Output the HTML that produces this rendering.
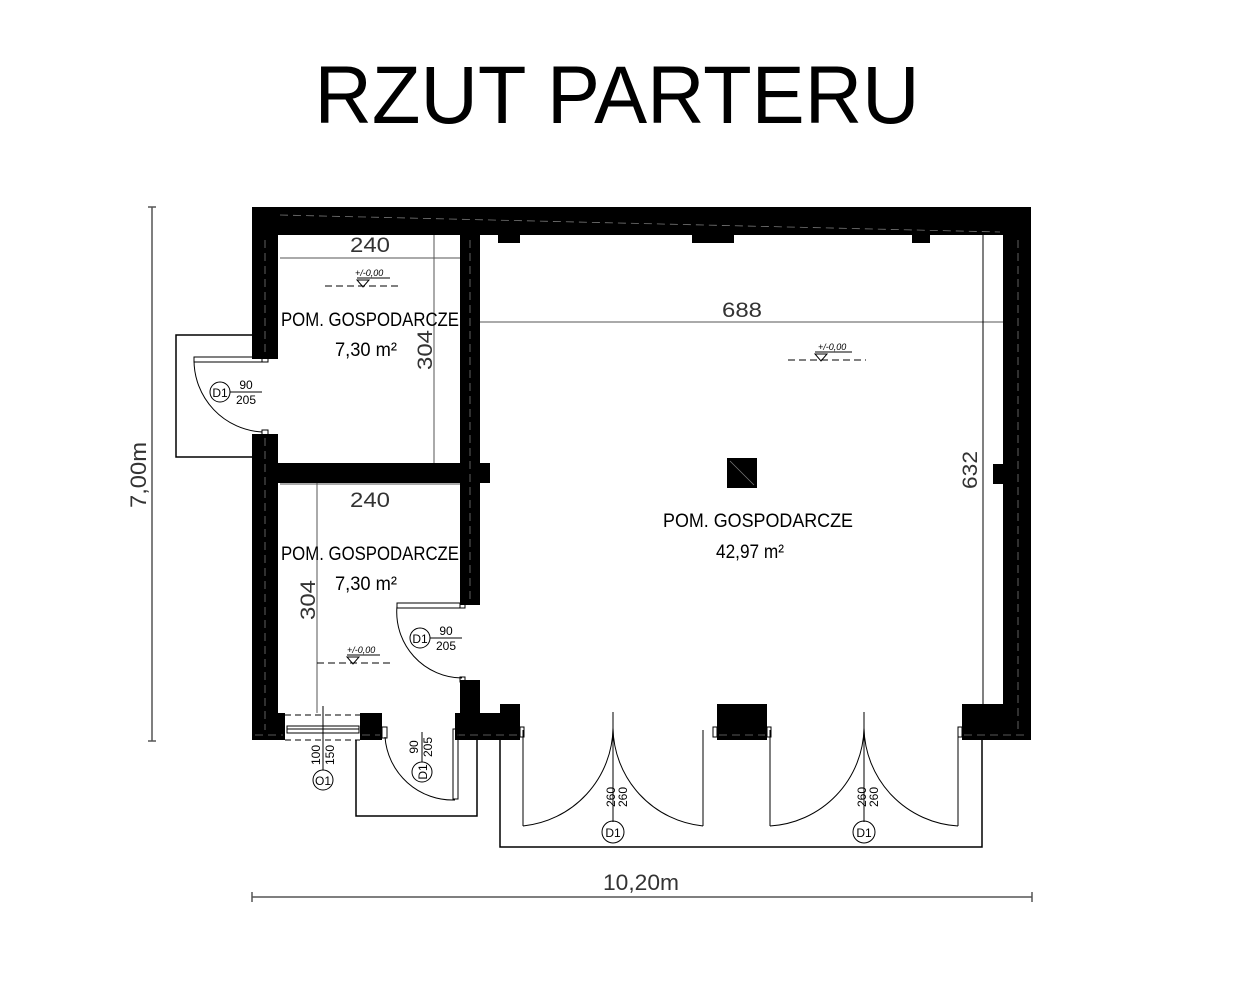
<!DOCTYPE html>
<html><head><meta charset="utf-8"><style>
html,body{margin:0;padding:0;background:#fff;}
svg{display:block;}
text{font-family:"Liberation Sans",sans-serif;}
</style></head><body>
<svg width="1257" height="987" viewBox="0 0 1257 987" xmlns="http://www.w3.org/2000/svg">
<rect width="1257" height="987" fill="#fff"/>
<text x="617" y="123" font-size="82" text-anchor="middle" textLength="605" lengthAdjust="spacingAndGlyphs">RZUT PARTERU</text>

<!-- overall dims -->
<g stroke="#555" stroke-width="1.5" fill="none">
<line x1="152" y1="207" x2="152" y2="741"/>
<line x1="148" y1="207" x2="156" y2="207"/><line x1="148" y1="741" x2="156" y2="741"/>
<line x1="252" y1="897" x2="1032" y2="897"/>
<line x1="252" y1="892" x2="252" y2="902"/><line x1="1032" y1="892" x2="1032" y2="902"/>
</g>
<text x="641" y="890" font-size="22" fill="#333" text-anchor="middle" textLength="76" lengthAdjust="spacingAndGlyphs" font-weight="300">10,20m</text>
<text transform="translate(146,475) rotate(-90)" font-size="22" fill="#333" text-anchor="middle" textLength="66" lengthAdjust="spacingAndGlyphs">7,00m</text>

<!-- porches -->
<g stroke="#000" stroke-width="1.5" fill="none">
<polyline points="252,335 176,335 176,457 252,457"/>
<polyline points="356,740 356,816 477,816 477,740"/>
<polyline points="500,740 500,847 982,847 982,740"/>
</g>

<!-- walls -->
<g fill="#000">
<rect x="252" y="207" width="779" height="28"/>
<rect x="252" y="207" width="26" height="152"/>
<rect x="252" y="434" width="26" height="306"/>
<rect x="1003" y="207" width="28" height="533"/>
<rect x="993" y="464" width="12" height="20"/>
<rect x="460" y="235" width="20" height="370"/>
<rect x="460" y="680" width="20" height="60"/>
<rect x="252" y="463" width="238" height="20"/>
<rect x="252" y="713" width="33" height="27"/>
<rect x="360" y="713" width="22" height="27"/>
<rect x="455" y="713" width="65" height="27"/>
<rect x="500" y="704" width="20" height="36"/>
<rect x="717" y="704" width="50" height="36"/>
<rect x="962" y="704" width="69" height="36"/>
<rect x="498" y="235" width="22" height="8"/>
<rect x="692" y="235" width="42" height="8"/>
<rect x="912" y="235" width="18" height="8"/>
<rect x="727" y="458" width="30" height="30"/>
</g>
<!-- hatching hints -->
<g stroke="#777" stroke-width="0.8" stroke-dasharray="8,5" fill="none">
<line x1="280" y1="215" x2="1000" y2="232"/>
<line x1="265" y1="240" x2="265" y2="355"/>
<line x1="265" y1="438" x2="265" y2="730"/>
<line x1="1018" y1="240" x2="1018" y2="730"/>
<line x1="470" y1="240" x2="470" y2="600"/>
<line x1="255" y1="735" x2="283" y2="735"/>
<line x1="362" y1="735" x2="380" y2="735"/>
<line x1="457" y1="735" x2="518" y2="735"/>
<line x1="719" y1="735" x2="765" y2="735"/>
<line x1="964" y1="735" x2="1028" y2="735"/>
</g>
<line x1="730" y1="461" x2="754" y2="485" stroke="#777" stroke-width="0.8"/>

<!-- window -->
<g stroke="#000" stroke-width="1" fill="none">
<line x1="285" y1="715" x2="360" y2="715" stroke-dasharray="6,4"/>
<line x1="285" y1="740" x2="360" y2="740" stroke-dasharray="6,4"/>
<rect x="287" y="726" width="72" height="7"/>
<line x1="287" y1="729" x2="359" y2="729"/>
</g>

<!-- doors -->
<g stroke="#000" stroke-width="1" fill="none">
<rect x="194" y="357" width="68" height="5"/>
<rect x="262" y="357" width="6" height="5"/>
<rect x="262" y="430" width="6" height="5"/>
<path d="M194,360 A72,72 0 0 0 262,432"/>
<rect x="397" y="603" width="63" height="5"/>
<rect x="460" y="603" width="5" height="5"/>
<rect x="460" y="677" width="5" height="5"/>
<path d="M397,606 A66,66 0 0 0 462,678"/>
<rect x="453" y="729" width="5" height="70"/>
<rect x="382" y="727" width="5" height="11"/>
<path d="M385,737 A68,68 0 0 0 455,800"/>
<line x1="523" y1="730" x2="523" y2="826"/>
<line x1="703" y1="730" x2="703" y2="826"/>
<path d="M523,826 A100,100 0 0 0 613,728"/>
<path d="M703,826 A100,100 0 0 1 613,728"/>
<line x1="613" y1="712" x2="613" y2="822"/>
<line x1="770" y1="730" x2="770" y2="826"/>
<line x1="958" y1="730" x2="958" y2="826"/>
<path d="M770,826 A100,100 0 0 0 864,728"/>
<path d="M958,826 A100,100 0 0 1 864,728"/>
<line x1="864" y1="712" x2="864" y2="822"/>
<rect x="520" y="727" width="4" height="10"/><rect x="713" y="727" width="4" height="10"/>
<rect x="767" y="727" width="4" height="10"/><rect x="958" y="727" width="4" height="10"/>
</g>

<!-- door tags -->
<g stroke="#000" stroke-width="1" fill="none">
<circle cx="220" cy="392" r="10"/><line x1="230" y1="392" x2="262" y2="392"/>
<circle cx="420" cy="638" r="10"/><line x1="430" y1="638" x2="462" y2="638"/>
<circle cx="422" cy="772" r="10"/><line x1="422" y1="762" x2="422" y2="732"/>
<circle cx="323" cy="780" r="10"/><line x1="323" y1="770" x2="323" y2="706"/>
<circle cx="613" cy="832" r="11"/>
<circle cx="864" cy="832" r="11"/>
</g>
<g font-size="12" text-anchor="middle">
<text x="220" y="397">D1</text><text x="246" y="389">90</text><text x="246" y="404">205</text>
<text x="420" y="643">D1</text><text x="446" y="635">90</text><text x="446" y="650">205</text>
<text transform="translate(427,772) rotate(-90)">D1</text>
<text transform="translate(418,747) rotate(-90)">90</text>
<text transform="translate(432,747) rotate(-90)">205</text>
<text x="323" y="785">O1</text>
<text transform="translate(320,755) rotate(-90)">100</text>
<text transform="translate(334,755) rotate(-90)">150</text>
<text x="613" y="837">D1</text><text x="864" y="837">D1</text>
<text transform="translate(615,797) rotate(-90)">260</text>
<text transform="translate(627,797) rotate(-90)">260</text>
<text transform="translate(866,797) rotate(-90)">260</text>
<text transform="translate(878,797) rotate(-90)">260</text>
</g>

<!-- interior dims -->
<g stroke="#555" stroke-width="1" fill="none">
<line x1="280" y1="258" x2="460" y2="258"/>
<line x1="434" y1="235" x2="434" y2="463"/>
<line x1="280" y1="484" x2="460" y2="484"/>
<line x1="317" y1="483" x2="317" y2="713"/>
<line x1="480" y1="322" x2="1003" y2="322"/>
<line x1="983" y1="235" x2="983" y2="704" stroke="#000"/>
</g>
<g font-size="21" fill="#333" text-anchor="middle">
<text x="370" y="252" textLength="40" lengthAdjust="spacingAndGlyphs">240</text>
<text x="370" y="507" textLength="40" lengthAdjust="spacingAndGlyphs">240</text>
<text x="742" y="317" textLength="40" lengthAdjust="spacingAndGlyphs">688</text>
<text transform="translate(432,350) rotate(-90)" textLength="40" lengthAdjust="spacingAndGlyphs">304</text>
<text transform="translate(315,600) rotate(-90)" textLength="40" lengthAdjust="spacingAndGlyphs">304</text>
<text transform="translate(977,470) rotate(-90)" textLength="38" lengthAdjust="spacingAndGlyphs">632</text>
</g>

<!-- levels -->
<g stroke="#000" stroke-width="1" fill="none">
<line x1="325" y1="286" x2="400" y2="286" stroke-dasharray="7,4"/>
<path d="M357,280 L369,280 L363,287 Z"/><line x1="357" y1="278" x2="390" y2="278"/>
<line x1="788" y1="360" x2="866" y2="360" stroke-dasharray="7,4"/>
<path d="M815,354 L827,354 L821,361 Z"/><line x1="815" y1="352" x2="852" y2="352"/>
<line x1="317" y1="663" x2="393" y2="663" stroke-dasharray="7,4"/>
<path d="M347,657 L359,657 L353,664 Z"/><line x1="347" y1="655" x2="380" y2="655"/>
</g>
<g font-size="9" font-style="italic">
<text x="355" y="276">+/-0,00</text>
<text x="818" y="350">+/-0,00</text>
<text x="347" y="653">+/-0,00</text>
</g>

<!-- room labels -->
<g font-size="19" text-anchor="middle">
<text x="370" y="326" textLength="178" lengthAdjust="spacingAndGlyphs">POM. GOSPODARCZE</text>
<text x="366" y="356" textLength="62" lengthAdjust="spacingAndGlyphs">7,30 m²</text>
<text x="370" y="560" textLength="178" lengthAdjust="spacingAndGlyphs">POM. GOSPODARCZE</text>
<text x="366" y="590" textLength="62" lengthAdjust="spacingAndGlyphs">7,30 m²</text>
<text x="758" y="527" textLength="190" lengthAdjust="spacingAndGlyphs">POM. GOSPODARCZE</text>
<text x="750" y="558" textLength="68" lengthAdjust="spacingAndGlyphs">42,97 m²</text>
</g>
</svg>
</body></html>
